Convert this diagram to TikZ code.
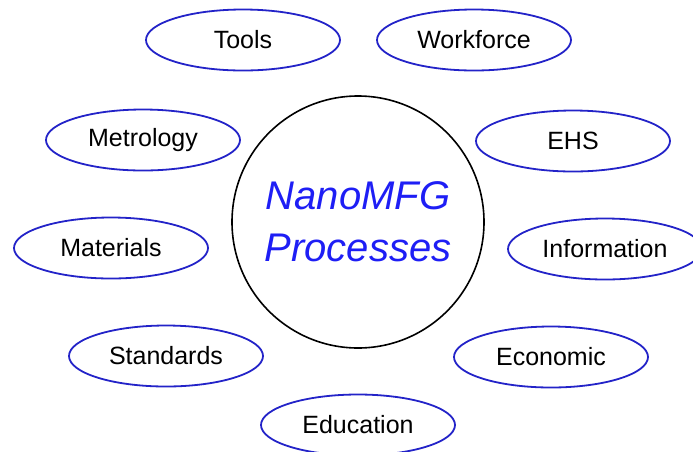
\documentclass[tikz,border=0pt]{standalone}
\usepackage{fontspec}
\setmainfont{Liberation Sans}
\usetikzlibrary{shapes.geometric}
\definecolor{ringblue}{RGB}{35,35,200}
\definecolor{hubblue}{RGB}{30,30,245}

\begin{document}
\begin{tikzpicture}[x=1pt,y=-1pt,
    topic/.style={ellipse,draw=ringblue,line width=1.8pt,minimum width=194pt,minimum height=61pt,inner sep=0pt,font=\fontsize{25}{30}\selectfont},
    hub/.style={circle,draw,line width=1.6pt,minimum size=252pt,inner sep=0pt,align=center,text=hubblue,font=\itshape\fontsize{40}{52}\selectfont}]
	\useasboundingbox (0,0) rectangle (693,451);
	\clip (0,0) rectangle (693,451);

	\node[hub]   (hub)     at (358,222) {NanoMFG\\Processes};

	\node[topic] (tools)   at (243,40)  {Tools};
	\node[topic] (work)    at (474,40)  {Workforce};
	\node[topic] (metro)   at (143,140) {Metrology};
	\node[topic] (ehs)     at (573,141) {EHS};
	\node[topic] (mat)     at (111,248) {Materials};
	\node[topic] (info)    at (605,249) {Information};
	\node[topic] (std)     at (166,356) {Standards};
	\node[topic] (econ)    at (551,357) {Economic};
	\node[topic] (edu)     at (358,425) {Education};
\end{tikzpicture}
\end{document}
